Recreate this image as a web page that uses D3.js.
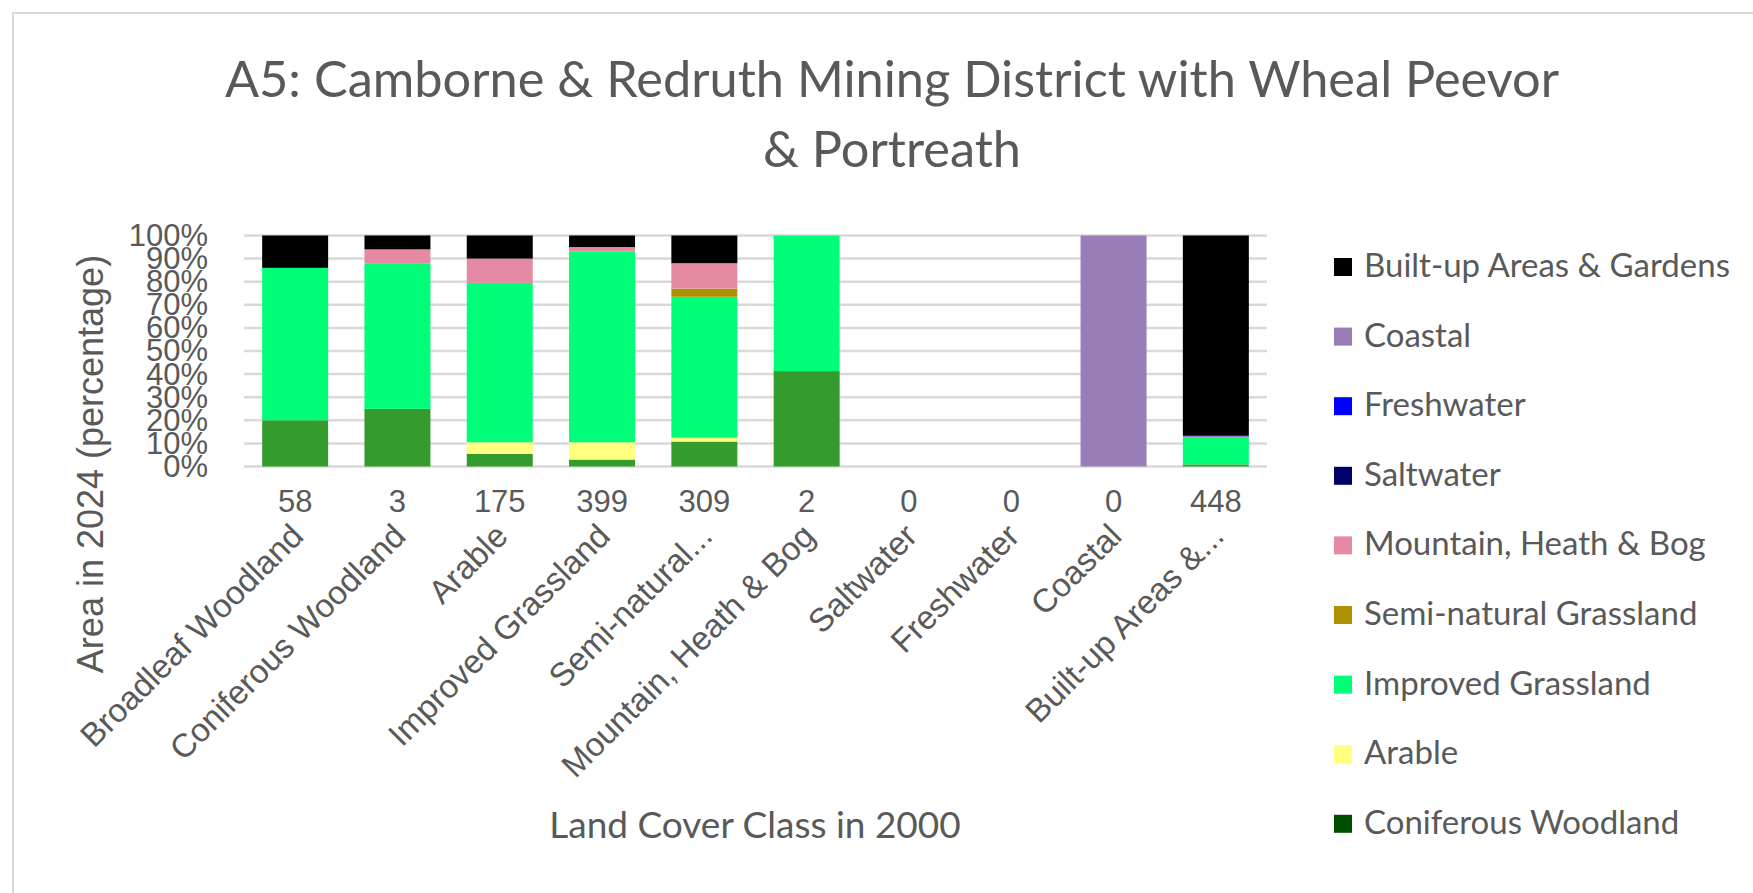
<!DOCTYPE html>
<html>
<head>
<meta charset="utf-8">
<script src="https://cdn.jsdelivr.net/npm/d3@7"></script>
<style>
  body{margin:0;background:#fff;}
  svg{display:block;}
</style>
</head>
<body>
<svg id="chart" width="1753" height="893"></svg>
<script>
"use strict";
//Categories (land cover class in 2000)
const categories = ["Broadleaf Woodland","Coniferous Woodland","Arable","Improved Grassland",
    "Semi-natural Grassland","Mountain, Heath & Bog","Saltwater","Freshwater","Coastal","Built-up Areas & Gardens"];
//Category labels as printed on the axis
const categoryLabels = ["Broadleaf Woodland","Coniferous Woodland","Arable","Improved Grassland",
    "Semi-natural...","Mountain, Heath & Bog","Saltwater","Freshwater","Coastal","Built-up Areas &..."];
//Counts shown above the category names
const counts = [58,3,175,399,309,2,0,0,0,448];

//Series values: percentage of each 2000 class that became this class in 2024
const broadleaf   = [20, 25, 5.5, 3, 10.8, 41.3, 0, 0, 0, 0.9];
const coniferous  = [0, 0, 0, 0, 0, 0, 0, 0, 0, 0];
const arable      = [0, 0, 5, 7.5, 1.7, 0, 0, 0, 0, 0];
const improved    = [66, 63, 69, 82.5, 61, 58.7, 0, 0, 0, 11.8];
const seminatural = [0, 0, 0, 0, 3.5, 0, 0, 0, 0, 0];
const mountain    = [0, 6, 10.5, 2, 11, 0, 0, 0, 0, 0];
const saltwater   = [0, 0, 0, 0, 0, 0, 0, 0, 0, 0];
const freshwater  = [0, 0, 0, 0, 0, 0, 0, 0, 0, 0];
const coastal     = [0, 0, 0, 0, 0, 0, 0, 0, 100, 0.6];
const builtup     = [14, 6, 10, 5, 12, 0, 0, 0, 0, 86.7];

const seriesNames = ["Broadleaf Woodland","Coniferous Woodland","Arable","Improved Grassland",
    "Semi-natural Grassland","Mountain, Heath & Bog","Saltwater","Freshwater","Coastal","Built-up Areas & Gardens"];
const seriesValues = [broadleaf,coniferous,arable,improved,seminatural,mountain,saltwater,freshwater,coastal,builtup];
const seriesColours = ["#349c2c","#004d00","#ffff80","#00ff78","#ae9100","#e68aa4","#000066","#0000ff","#997db8","#000000"];
//Legend shows the series top-down, without Broadleaf (cut off in the original)
const legendNames = seriesNames.slice(1).reverse();

const yTicks = [0,10,20,30,40,50,60,70,80,90,100];

const textGrey = "#595959",
      armFont = "'Liberation Sans', Arial, sans-serif",
      aptFont = "Lato, 'Open Sans', sans-serif";

//Build the table for the stack
const table = categories.map((c,i)=>{
    let row = {category:c};
    seriesNames.forEach((s,j)=>{ row[s] = seriesValues[j][i]; });
    return row;
});
const stacked = d3.stack().keys(seriesNames)(table);
const colour = d3.scaleOrdinal().domain(seriesNames).range(seriesColours);

const svg = d3.select("#chart");

//chart border
svg.append("rect")
    .attr("x",13).attr("y",13)
    .attr("width",1760).attr("height",900)
    .style("fill","none").style("stroke","#d9d9d9").style("stroke-width",2);

//Title
const title = svg.append("text")
    .attr("text-anchor","middle")
    .style("font-family",aptFont).style("font-size","50.5px").style("fill",textGrey);
title.append("tspan").attr("x",892).attr("y",97).text("A5: Camborne & Redruth Mining District with Wheal Peevor");
title.append("tspan").attr("x",892).attr("y",167).text("& Portreath");

//Scales
const x = d3.scaleBand().domain(categories).range([244,1267]).paddingInner(0.355).paddingOuter(0.1775);
const y = d3.scaleLinear().domain([0,100]).range([466.5,235.5]);

//Gridlines
svg.append("g").selectAll("line").data(yTicks).enter().append("line")
    .attr("x1",244).attr("x2",1267)
    .attr("y1",d=>y(d)).attr("y2",d=>y(d))
    .style("stroke","#d9d9d9").style("stroke-width",2.5);

//Y axis labels
const yAxis = svg.append("g")
    .attr("transform","translate(212,0)")
    .call(d3.axisLeft(y).tickValues(yTicks).tickFormat(d=>d+"%").tickSize(0).tickPadding(4));
yAxis.select(".domain").remove();
yAxis.selectAll("text")
    .style("font-family",armFont).style("font-size","31px").style("fill",textGrey);

//Bars
svg.append("g").selectAll("g").data(stacked).enter().append("g")
    .style("fill",d=>colour(d.key))
    .selectAll("rect").data(d=>d).enter().append("rect")
    .attr("x",d=>x(d.data.category))
    .attr("width",x.bandwidth())
    .attr("y",d=>y(d[1]))
    .attr("height",d=>Math.max(0,y(d[0])-y(d[1])));

//Counts
svg.append("g").selectAll("text").data(counts).enter().append("text")
    .attr("x",(d,i)=>x(categories[i])+x.bandwidth()/2)
    .attr("y",512)
    .attr("text-anchor","middle")
    .style("font-family",armFont).style("font-size","31px").style("fill",textGrey)
    .text(d=>d);

//Category names, rotated
svg.append("g").selectAll("text").data(categoryLabels).enter().append("text")
    .attr("text-anchor","end")
    .attr("transform",(d,i)=>"translate(" + (x(categories[i])+x.bandwidth()/2+10) + ",538) rotate(-45)")
    .style("font-family",armFont).style("font-size","33px").style("fill",textGrey)
    .text(d=>d);

//Axis titles
svg.append("text")
    .attr("text-anchor","middle")
    .attr("transform","translate(103,464) rotate(-90)")
    .style("font-family",armFont).style("font-size","36px").style("fill",textGrey)
    .text("Area in 2024 (percentage)");

svg.append("text")
    .attr("x",755).attr("y",838)
    .attr("text-anchor","middle")
    .style("font-family",aptFont).style("font-size","37px").style("fill",textGrey)
    .text("Land Cover Class in 2000");

//Legend
const legend = svg.append("g").selectAll("g").data(legendNames).enter().append("g")
    .attr("transform",(d,i)=>"translate(1334," + (277 + i*69.6) + ")");
legend.append("rect")
    .attr("x",0).attr("y",-19).attr("width",18).attr("height",18)
    .style("fill",d=>colour(d));
legend.append("text")
    .attr("x",30).attr("y",0)
    .style("font-family",aptFont).style("font-size","33px").style("fill",textGrey)
    .text(d=>d);
</script>
</body>
</html>
